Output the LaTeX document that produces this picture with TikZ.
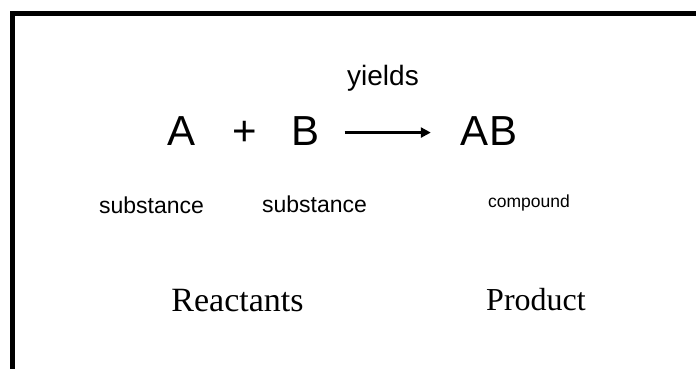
\documentclass[tikz,border=0pt]{standalone}
\usepackage{fontspec}
\setmainfont{Liberation Serif}
\setsansfont{Liberation Sans}
\usetikzlibrary{positioning,arrows.meta}

\begin{document}
\begin{tikzpicture}[x=1pt,y=-1pt,
  every node/.style={inner sep=0pt,anchor=base,font=\sffamily},
  big/.style={font=\sffamily\fontsize{42}{50}\selectfont},
  small/.style={font=\sffamily\fontsize{23}{28}\selectfont},
  label/.style={font=\rmfamily\fontsize{33}{40}\selectfont}]
\useasboundingbox (0,0) rectangle (696,369);
\draw[line width=5pt] (12.5,369) -- (12.5,13.5) -- (696,13.5);
\node[font=\sffamily\fontsize{28}{34}\selectfont] (yields) at (383,85) {yields};
\node[big] (A) at (182,145) {A};
\node[big] (plus) at (244.5,145) {+};
\node[big] (B) at (305.5,145) {B};
\node[big] (AB) at (489,145) {AB};
\node[small] (s1) at (151.5,213) {substance};
\node[small] (s2) at (314.5,212) {substance};
\node[font=\sffamily\fontsize{17.5}{21}\selectfont] (c) at (529,207) {compound};
\node[label,font=\rmfamily\fontsize{34}{40}\selectfont] (reac) at (237.5,311) {Reactants};
\node[label,font=\rmfamily\fontsize{32}{40}\selectfont] (prod) at (536,310) {Product};
\draw[line width=3pt,-{Triangle[length=10pt,width=10pt]},shorten <=25pt,shorten >=30pt] ([yshift=-2pt]B.east) -- ([yshift=-2pt]AB.west);
\end{tikzpicture}
\end{document}
